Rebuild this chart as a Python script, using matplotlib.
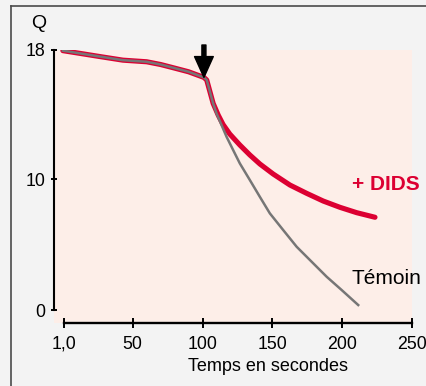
import numpy as np
import matplotlib
matplotlib.use("Agg")
import matplotlib.pyplot as plt
from matplotlib.lines import Line2D

plt.rcParams['font.family'] = ['Liberation Sans', 'DejaVu Sans']

# partie commune (avant l'ajout, t ~ 100 s)
t_commun = [0, 13, 26, 43, 60, 70, 79, 90, 101]
q_commun = [17.96, 17.78, 17.6, 17.37, 17.27, 17.1, 16.9, 16.65, 16.3]

# + DIDS
t_dids = [103, 107.6, 111.2, 114.7, 119.5, 126.7, 133.9, 141.1, 150.6, 162.6,
          174.5, 186.4, 198.4, 210.4, 223.5]
q_dids = [16.14, 14.69, 13.97, 13.38, 12.79, 12.11, 11.49, 10.93, 10.31, 9.54,
          8.91, 8.32, 7.84, 7.43, 7.08]

# Témoin
t_temoin = [103, 107.6, 110, 113.6, 117.2, 121.9, 126.7, 133.9, 141, 148.2,
            157.8, 167.4, 178.1, 188.9, 199.6, 211.5]
q_temoin = [16.14, 14.69, 14.07, 13.35, 12.62, 11.8, 10.97, 9.92, 8.65, 7.38,
            6.1, 4.83, 3.69, 2.54, 1.53, 0.38]

x_ticks = [1, 50, 100, 150, 200, 250]
x_labels = ['1,0', '50', '100', '150', '200', '250']
y_ticks = [0, 10, 18]

rouge = '#dc0032'
gris = '#767676'

# echelle Q du dessin original: 0-10 plus serre que 10-18
def fwd(y):
    y = np.asarray(y, dtype=float)
    return np.where(y < 10, y * 13.1, 131 + (y - 10) * 16.125)

def inv(v):
    v = np.asarray(v, dtype=float)
    return np.where(v < 131, v / 13.1, 10 + (v - 131) / 16.125)

W, H = 426, 386
fig = plt.figure(figsize=(W / 100, H / 100), dpi=100, facecolor='#f3f3f3')
ax = fig.add_axes([54.5 / W, 1 - 323 / H, 357.5 / W, 273 / H])
ax.set_facecolor('#fdeee8')

ax.set_yscale('function', functions=(fwd, inv))
ax.set_xlim(-6, 250)
ax.set_ylim(-0.99, 18)

tx_dids = t_commun + t_dids
qy_dids = q_commun + q_dids
tx_tem = t_commun + t_temoin
qy_tem = q_commun + q_temoin
ax.plot(tx_dids, qy_dids, color=rouge, lw=3.7, solid_capstyle='round',
        solid_joinstyle='round', zorder=3)
ax.plot(tx_tem, qy_tem, color=gris, lw=1.8, solid_joinstyle='round', zorder=4)

# fleche: ajout au point de cassure
ax.annotate('', xy=(t_commun[-1], q_commun[-1]), xytext=(t_commun[-1], 18.31),
            arrowprops=dict(facecolor='black', edgecolor='black', width=2.9,
                            headwidth=13.5, headlength=15, shrink=0),
            annotation_clip=False, zorder=5)

for s in ['top', 'right']:
    ax.spines[s].set_visible(False)
ax.spines['left'].set_bounds(0, 18)
ax.spines['left'].set_linewidth(1.5)
ax.spines['bottom'].set_bounds(1, 250)
ax.spines['bottom'].set_linewidth(1.7)

ax.set_xticks(x_ticks)
ax.set_xticklabels(x_labels)
ax.set_yticks(y_ticks)
ax.set_yticklabels([str(v) for v in y_ticks])
ax.yaxis.set_minor_locator(matplotlib.ticker.NullLocator())
ax.tick_params(axis='x', direction='inout', length=6.5, width=1.4, pad=6,
               labelsize=12.8, colors='black')
ax.tick_params(axis='y', direction='inout', length=5, width=1.4, pad=4,
               labelsize=12.8, colors='black')

ax.set_xlabel('Temps en secondes', fontsize=13)
ax.xaxis.set_label_coords((268 - 54.5) / 357.5, -(358 - 323) / 273)
ax.xaxis.label.set_va('top')

ax.text((39 - 54.5) / 357.5, (323 - 24) / 273, 'Q', transform=ax.transAxes,
        ha='center', va='center', fontsize=14)
ax.text((352 - 54.5) / 357.5, (323 - 190) / 273, '+ DIDS', transform=ax.transAxes,
        ha='left', va='baseline', fontsize=15, fontweight='bold', color=rouge)
ax.text((352 - 54.5) / 357.5, (323 - 284) / 273, 'Témoin', transform=ax.transAxes,
        ha='left', va='baseline', fontsize=15, color='black')

# cadre
fig.add_artist(Line2D([11 / W, 11 / W], [0, 1 - 6 / H], color='#4a4a4a', lw=1.2))
fig.add_artist(Line2D([11 / W, 1], [1 - 6 / H, 1 - 6 / H], color='#4a4a4a', lw=1.2))

fig.savefig('out.png', dpi=100, facecolor=fig.get_facecolor())
